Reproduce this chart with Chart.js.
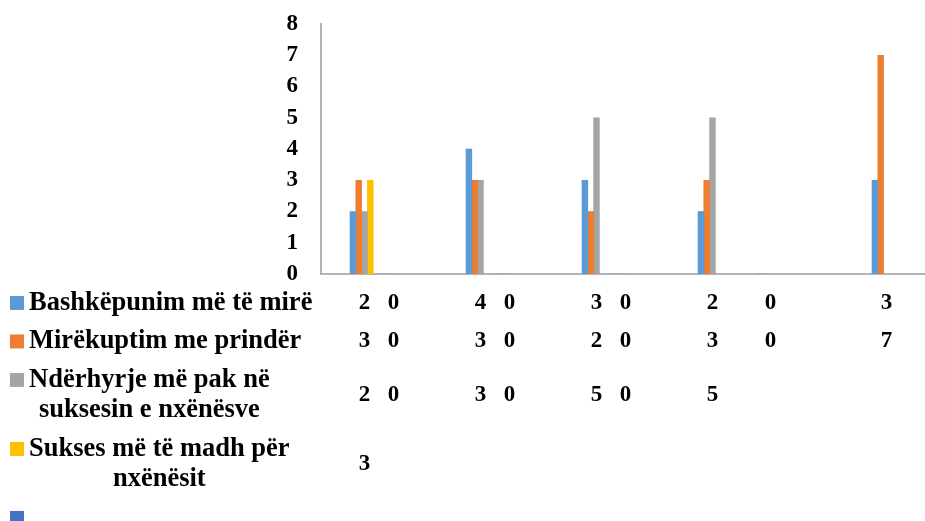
<!DOCTYPE html>
<html>
<head>
<meta charset="utf-8">
<script src="https://cdn.jsdelivr.net/npm/chart.js@4/dist/chart.umd.min.js"></script>
<style>
  html, body { margin: 0; padding: 0; background: #fff; overflow: hidden; }
  canvas { display: block; }
</style>
</head>
<body>
<canvas id="chart" width="925" height="521"></canvas>
<script>
// Position of each category along the horizontal axis (category units)
const categoryPos = [0, 0.5, 2, 2.5, 4, 4.5, 6, 7, 9];

// Series names (already wrapped into lines) and values per category
const seriesNames = [
  ['Bashkëpunim më të mirë'],
  ['Mirëkuptim me prindër'],
  ['Ndërhyrje më pak në', 'suksesin e nxënësve'],
  ['Sukses më të madh për', 'nxënësit'],
  ['']
];
const bashkepunim = [2, 0, 4, 0, 3, 0, 2, 0, 3];
const mirekuptim  = [3, 0, 3, 0, 2, 0, 3, 0, 7];
const nderhyrje   = [2, 0, 3, 0, 5, 0, 5, null, null];
const sukses      = [3, null, null, null, null, null, null, null, null];
const paEmer      = [null, null, null, null, null, null, null, null, null];

const seriesValues = [bashkepunim, mirekuptim, nderhyrje, sukses, paEmer];
const seriesColors = ['#5B9BD5', '#ED7D31', '#A5A5A5', '#FFC000', '#4472C4'];

// Value axis ticks
const yMin = 0, yMax = 8, yStep = 1;

const SERIF = '"Liberation Serif", "Times New Roman", serif';

// Data table drawn beneath the plot: legend key, series name and values per row
const dataTable = {
  id: 'dataTable',
  afterDraw(chart) {
    const ctx = chart.ctx;
    const xs = chart.scales.x;
    const lineH = 30.5, gap = 8;
    let top = 283.7;
    ctx.save();
    ctx.textBaseline = 'middle';
    seriesNames.forEach((lines, r) => {
      const h = lines.length * lineH + gap;
      const cy = top + h / 2;
      const firstY = cy - (lines.length - 1) * lineH / 2;
      ctx.fillStyle = seriesColors[r];
      ctx.fillRect(10, firstY - 7, 14, 14);

      ctx.fillStyle = '#000';
      ctx.font = 'bold 26.5px ' + SERIF;
      ctx.textAlign = 'center';
      const w = Math.max(...lines.map(l => ctx.measureText(l).width));
      lines.forEach((l, i) => ctx.fillText(l, 29 + w / 2, firstY + i * lineH));

      ctx.font = 'bold 23px ' + SERIF;
      seriesValues[r].forEach((v, j) => {
        if (v === null || v === undefined) return;
        ctx.fillText(String(v), xs.getPixelForValue(categoryPos[j]), cy);
      });
      top += h;
    });
    ctx.restore();
  }
};

const datasets = seriesValues.map((vals, i) => ({
  label: seriesNames[i].join(' '),
  data: vals.map((v, j) => ({ x: categoryPos[j], y: v })),
  backgroundColor: seriesColors[i],
  borderWidth: 0,
  barThickness: 5.8
}));

new Chart(document.getElementById('chart'), {
  type: 'bar',
  data: { datasets },
  options: {
    responsive: false,
    animation: false,
    devicePixelRatio: 1,
    layout: { padding: { left: 0, right: 0, top: 24, bottom: 247 } },
    plugins: { legend: { display: false }, tooltip: { enabled: false } },
    scales: {
      x: {
        type: 'linear',
        offset: false,
        bounds: 'data',
        min: -0.75,
        max: 9.664,
        grid: { display: false, drawTicks: false },
        ticks: { display: false },
        border: { display: true, color: '#b4b4b4', width: 2 },
        afterFit(s) { s.height = 0; }
      },
      y: {
        min: yMin,
        max: yMax,
        grid: { display: false, drawTicks: false },
        border: { display: true, color: '#b4b4b4', width: 2 },
        ticks: {
          stepSize: yStep,
          padding: 23,
          color: '#000',
          font: { family: SERIF, size: 23, weight: 'bold' }
        },
        afterFit(s) {
          s.width = 321;
          s.paddingTop = 0;
          s.paddingBottom = 0;
        }
      }
    }
  },
  plugins: [dataTable]
});
</script>
</body>
</html>
